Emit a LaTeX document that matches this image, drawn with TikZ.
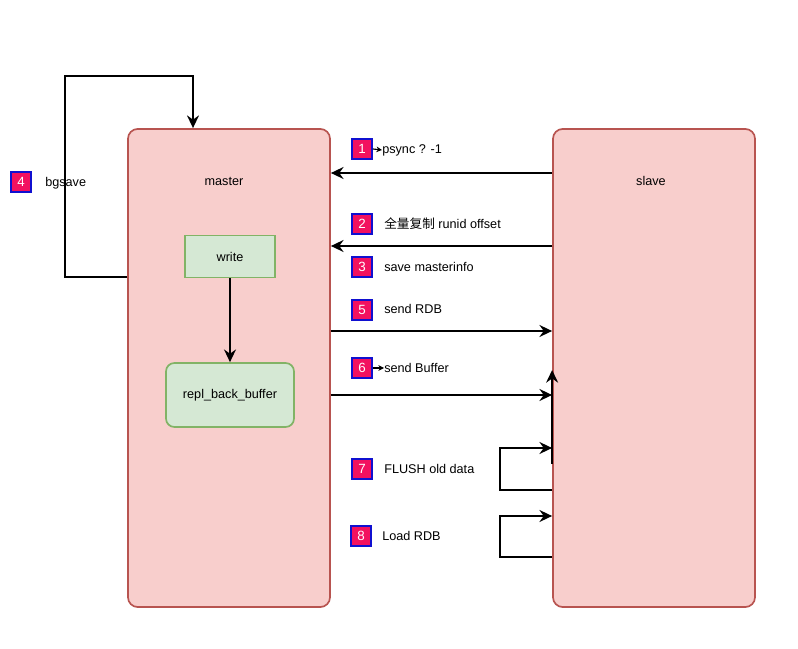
\documentclass[tikz,border=0pt]{standalone}
\usepackage{fontspec}
\setmainfont{Liberation Sans}
\newfontfamily\cjkfont{Noto Sans CJK SC}
\usetikzlibrary{arrows.meta,positioning}
\definecolor{roleFill}{HTML}{F8CECC}
\definecolor{roleLine}{HTML}{B85450}
\definecolor{bufFill}{HTML}{D5E8D4}
\definecolor{bufLine}{HTML}{82B366}
\definecolor{tagFill}{HTML}{F2115F}
\definecolor{tagLine}{HTML}{1010D0}

\begin{document}
\begin{tikzpicture}[
    x=0.025cm, y=-0.025cm,
    every node/.style={font=\fontsize{9}{11}\selectfont},
    role/.style={rectangle,draw=roleLine,fill=roleFill,line width=1.2pt,minimum width=5.05cm,minimum height=11.95cm,rounded corners=7pt},
    buf/.style={rectangle,draw=bufLine,fill=bufFill,line width=1.2pt,align=center},
    tag/.style={rectangle,draw=tagLine,fill=tagFill,line width=1.3pt,text=white,minimum size=0.5cm,inner sep=0pt,font=\fontsize{9.5}{11}\selectfont},
    note/.style={anchor=west,inner sep=0pt},
    flow/.style={line width=1.4pt,-{Stealth[length=9pt,width=8.5pt,inset=3pt]}},
    tick/.style={line width=0.8pt,-{Stealth[length=4pt,width=4pt]}}
]
    \useasboundingbox (0,0) rectangle (798,649);

    % the two servers
    \node[role] (master) at (229,368) {};
    \node[role] (slave) at (654,368) {};
    \node (masterlbl) at (224,181) {master};
    \node (slavelbl) at (651,181) {slave};

    % inside master
    \node[buf,minimum width=2.25cm,minimum height=1.05cm] (write) at (230,256.5) {write};
    \node[buf,rounded corners=6pt,minimum width=3.2cm,minimum height=1.6cm] (replbuf) at (230,395) {repl\_back\_buffer};
    \draw[flow] (write) -- (replbuf);

    % numbered steps
    \node[tag] (t1) at (362,149) {1};
    \node[note] (s1) at (382,150) {psync ? -1};
    \node[tag] (t2) at (362,224) {2};
    \node[note] (s2) at (384,224) {{\cjkfont 全量复制} runid offset};
    \node[tag] (t3) at (362,267) {3};
    \node[note] (s3) at (384,267) {save masterinfo};
    \node[tag] (t4) at (21,182) {4};
    \node[note] (s4) at (45,183) {bgsave};
    \node[tag] (t5) at (362,310) {5};
    \node[note] (s5) at (384,309) {send RDB};
    \node[tag] (t6) at (362,368) {6};
    \node[note] (s6) at (384,368) {send Buffer};
    \node[tag] (t7) at (362,469) {7};
    \node[note] (s7) at (384,469) {FLUSH old data};
    \node[tag] (t8) at (361,536) {8};
    \node[note] (s8) at (382,536) {Load RDB};
    \draw[tick] (t1.east) -- (s1.west);
    \draw[tick] (t6.east) -- (s6.west);

    % bgsave loop
    \coordinate (bgA) at (65,277);
    \coordinate (bgB) at (65,76);
    \coordinate (bgC) at (193,76);
    \draw[flow] (master.west |- bgA) -- (bgA) -- (bgB) -- (bgC) -- (bgC |- master.north);

    % messages between master and slave
    \draw[flow] (slave.west |- 0,173) -- (master.east |- 0,173);
    \draw[flow] (slave.west |- 0,246) -- (master.east |- 0,246);
    \draw[flow] (master.east |- 0,331) -- (slave.west |- 0,331);
    \draw[flow] (master.east |- 0,395) -- (slave.west |- 0,395);
    \draw[flow] (slave.west |- 0,464) -- (slave.west |- 0,370);

    % slave self loops
    \draw[flow] (slave.west |- 0,490) -- (500,490) -- (500,448) -- (slave.west |- 0,448);
    \draw[flow] (slave.west |- 0,557) -- (500,557) -- (500,516) -- (slave.west |- 0,516);
\end{tikzpicture}
\end{document}
